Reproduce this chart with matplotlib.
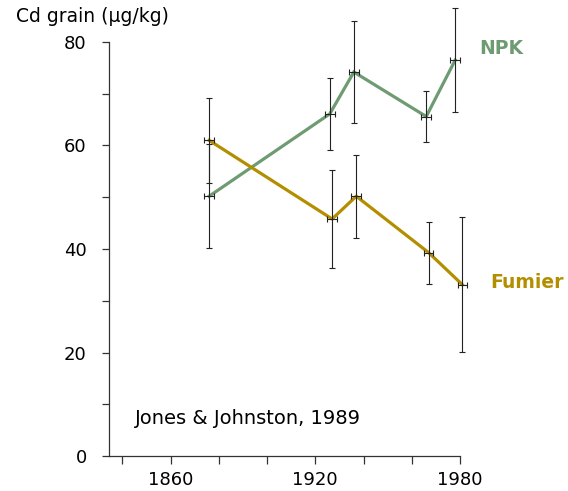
import matplotlib
matplotlib.use("Agg")
import matplotlib.pyplot as plt
from matplotlib.ticker import MultipleLocator, FixedLocator, FixedFormatter

# Broadbalk grain cadmium, NPK vs farmyard manure plots
npk_years = [1876, 1926, 1936, 1966, 1978]
npk_cd = [50.2, 66.1, 74.2, 65.6, 76.5]
npk_err = [10.0, 7.0, 9.8, 5.0, 10.0]

fumier_years = [1876, 1927, 1937, 1967, 1981]
fumier_cd = [61.0, 45.8, 50.2, 39.3, 33.1]
fumier_err = [8.2, 9.4, 8.0, 6.0, 13.0]

year_err = 2.0

y_ticks = [0, 20, 40, 60, 80]
x_ticks = [1840, 1860, 1880, 1900, 1920, 1940, 1960, 1980]
x_labels = ["", "1860", "", "", "1920", "", "", "1980"]

green = "#6f9b73"
gold = "#b38f00"

W, H = 568, 491
fig = plt.figure(figsize=(W / 100, H / 100), dpi=100)
ax = fig.add_axes([109 / W, (H - 456) / H, (460 - 109) / W, (456 - 42) / H])

ax.plot(npk_years, npk_cd, color=green, lw=2.3, zorder=2, clip_on=False,
        solid_joinstyle="miter")
ax.plot(fumier_years, fumier_cd, color=gold, lw=2.3, zorder=2, clip_on=False,
        solid_joinstyle="miter")

for xs, ys, es in [(npk_years, npk_cd, npk_err), (fumier_years, fumier_cd, fumier_err)]:
    eb = ax.errorbar(xs, ys, yerr=es, xerr=year_err, fmt="none", ecolor="#222222",
                     elinewidth=0.8, capsize=2.3, capthick=0.8, zorder=3)
    for part in eb.lines[1] + eb.lines[2]:
        part.set_clip_on(False)

ax.set_xlim(1834.5, 1980)
ax.set_ylim(0, 80)

for side in ("top", "right"):
    ax.spines[side].set_visible(False)
for side in ("left", "bottom"):
    ax.spines[side].set_linewidth(0.9)
    ax.spines[side].set_color("#333333")

ax.yaxis.set_major_locator(FixedLocator(y_ticks))
ax.yaxis.set_minor_locator(MultipleLocator(10))
ax.xaxis.set_major_locator(FixedLocator(x_ticks))
ax.xaxis.set_major_formatter(FixedFormatter(x_labels))
ax.tick_params(axis="y", which="both", direction="out", length=5, width=0.9,
               color="#333333", labelsize=13, pad=11)
ax.tick_params(axis="x", which="major", direction="out", length=6, width=0.9,
               color="#333333", labelsize=13, pad=5)

fig.text(16 / W, 1 - 17 / H, "Cd grain (µg/kg)", fontsize=13.5, va="center", ha="left")
fig.text(135 / W, 1 - 418 / H, "Jones & Johnston, 1989", fontsize=14,
         va="center", ha="left")
fig.text(479 / W, 1 - 48 / H, "NPK", fontsize=13.5, fontweight="bold",
         color=green, va="center", ha="left")
fig.text(490 / W, 1 - 282 / H, "Fumier", fontsize=13.5, fontweight="bold",
         color=gold, va="center", ha="left")

fig.savefig("out.png", dpi=100)
